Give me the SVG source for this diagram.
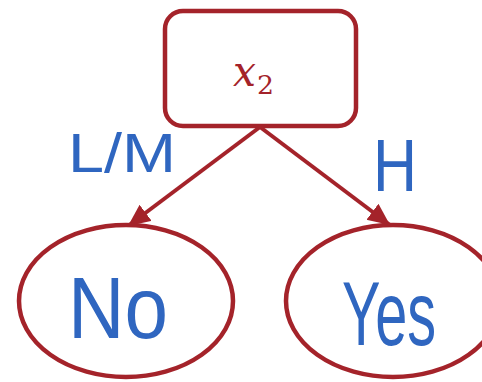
<svg xmlns="http://www.w3.org/2000/svg" width="482" height="382" viewBox="0 0 482 382">
<style>
.shape{fill:#fff;stroke:#a4232a;stroke-width:4.5}
.edge{stroke:#a4232a;stroke-width:4;fill:none}
.hand{fill:#2f66c0;font-family:"Liberation Sans",sans-serif}
.math{fill:#a4232a;font-family:"DejaVu Serif",serif}
</style>
<defs>
<marker id="ah" markerUnits="userSpaceOnUse" markerWidth="24" markerHeight="22" refX="22" refY="10" orient="auto">
<path d="M0,0 L22,10 L0,20 z" fill="#a4232a"/>
</marker>
</defs>
<g id="connectors">
<line class="edge" x1="260" y1="127" x2="128" y2="226" marker-end="url(#ah)"/>
<line class="edge" x1="260" y1="127" x2="390" y2="225" marker-end="url(#ah)"/>
<text class="hand" x="68" y="172" font-size="56" textLength="108" lengthAdjust="spacingAndGlyphs">L/M</text>
<text class="hand" x="373" y="191" font-size="74" textLength="44" lengthAdjust="spacingAndGlyphs">H</text>
</g>
<g id="node-x2">
<rect class="shape" x="165" y="11" width="191" height="115" rx="18"/>
<text class="math" x="233" y="86" font-size="42" font-style="italic" textLength="23" lengthAdjust="spacingAndGlyphs">x</text>
<text class="math" x="257" y="94" font-size="26" textLength="17" lengthAdjust="spacingAndGlyphs">2</text>
</g>
<g id="node-no">
<ellipse class="shape" cx="126" cy="301" rx="107" ry="76"/>
<text class="hand" x="68" y="338" font-size="88" textLength="100" lengthAdjust="spacingAndGlyphs">No</text>
</g>
<g id="node-yes">
<ellipse class="shape" cx="393" cy="301" rx="107" ry="76"/>
<text class="hand" x="342" y="345" font-size="90" textLength="94" lengthAdjust="spacingAndGlyphs">Yes</text>
</g>
</svg>
